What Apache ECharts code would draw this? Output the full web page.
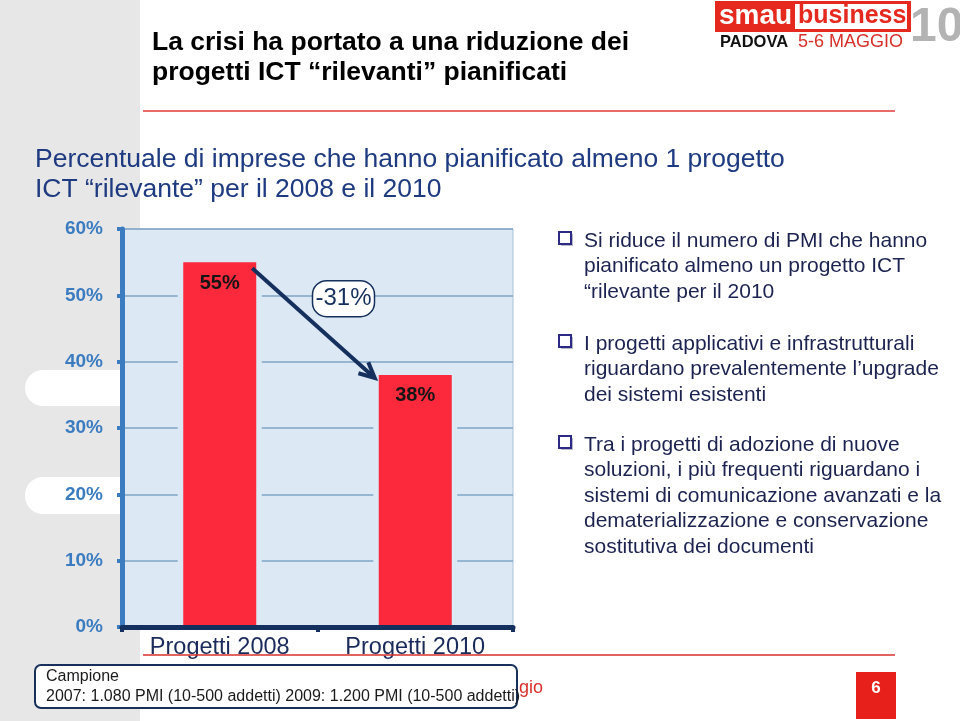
<!DOCTYPE html>
<html>
<head>
<meta charset="utf-8">
<script src="https://cdn.jsdelivr.net/npm/echarts@6/dist/echarts.min.js"></script>
<style>
html,body{margin:0;padding:0;background:#fff;}
#chart{width:960px;height:721px;}
</style>
</head>
<body>
<div id="chart"></div>
<script>
// ---- data ----
const categories = ['Progetti 2008', 'Progetti 2010'];
const values = [55, 38];
const valueLabels = ['55%', '38%'];
const yMin = 0, yMax = 60, yStep = 10;
const changeLabel = '-31%';
const titleLines = 'La crisi ha portato a una riduzione dei\nprogetti ICT \u201crilevanti\u201d pianificati';
const subtitleLines = 'Percentuale di imprese che hanno pianificato almeno 1 progetto\nICT \u201crilevante\u201d per il 2008 e il 2010';
const bullets = [
  'Si riduce il numero di PMI che hanno\npianificato almeno un progetto ICT\n\u201crilevante per il 2010',
  'I progetti applicativi e infrastrutturali\nriguardano prevalentemente l\u2019upgrade\ndei sistemi esistenti',
  'Tra i progetti di adozione di nuove\nsoluzioni, i pi\u00f9 frequenti riguardano i\nsistemi di comunicazione avanzati e la\ndematerializzazione e conservazione\nsostitutiva dei documenti'
];
const sampleNote = 'Campione\n2007: 1.080 PMI (10-500 addetti) 2009: 1.200 PMI (10-500 addetti)';
const footerText = 'Smau Business Padova, 5-6 maggio';
const pageNumber = '6';

const FONT = "'Liberation Sans', Arial, sans-serif";
const BG = '#dce9f5';
const chart = echarts.init(document.getElementById('chart'), null, {renderer: 'canvas'});

const option = {
  backgroundColor: '#ffffff',
  animation: false,
  grid: {left: 122, top: 229, right: 447, bottom: 94, show: true, backgroundColor: BG, borderColor: '#a9c3da', borderWidth: 1},
  xAxis: [{
    type: 'category', data: categories, z: 5,
    axisLine: {lineStyle: {color: '#13305e', width: 5}},
    axisTick: {show: true, alignWithLabel: false, length: 5, lineStyle: {color: '#13305e', width: 4}},
    axisLabel: {color: '#1a2a5a', fontSize: 23.5, fontFamily: FONT, margin: 9}
  }, {
    type: 'category', data: categories, show: false
  }],
  yAxis: {
    type: 'value', min: yMin, max: yMax, interval: yStep,
    axisLine: {show: true, lineStyle: {color: '#3b7cc1', width: 5}},
    axisTick: {show: true, length: 5, lineStyle: {color: '#3b7cc1', width: 4}},
    axisLabel: {formatter: '{value}%', color: '#3b7cc1', fontSize: 19, fontWeight: 'bold', fontFamily: FONT, margin: 19},
    splitLine: {show: true, lineStyle: {color: '#7ea3c4', width: 1.5}}
  },
  series: [{
    // halo behind each bar (plot-background colour) that cuts the gridlines
    type: 'bar', xAxisIndex: 1, data: values, barWidth: 84, z: 2, silent: true,
    itemStyle: {color: BG}
  }, {
    type: 'bar', xAxisIndex: 0, data: values, barWidth: 73, z: 3,
    itemStyle: {color: '#fc283c'},
    label: {show: true, position: 'insideTop', distance: 11, formatter: p => valueLabels[p.dataIndex],
      color: '#151515', fontSize: 20, fontWeight: 'bold', fontFamily: FONT}
  }]
};
chart.setOption(option);

// annotation positions from the library's scales
const pA = chart.convertToPixel({xAxisIndex: 0, yAxisIndex: 0}, [0, values[0]]);
const pB = chart.convertToPixel({xAxisIndex: 0, yAxisIndex: 0}, [1, values[1]]);
const half = 36.5;
const x1 = pA[0] + half - 4, y1 = pA[1] + 6;
const x2 = pB[0] - half - 4, y2 = pB[1] + 3;
const ang = Math.atan2(y2 - y1, x2 - x1);
const ah = 17, aw = 0.45;
const head = [
  [x2 - ah * Math.cos(ang - aw), y2 - ah * Math.sin(ang - aw)],
  [x2, y2],
  [x2 - ah * Math.cos(ang + aw), y2 - ah * Math.sin(ang + aw)]
];
const boxCx = (pA[0] + pB[0]) / 2 + 26;
const boxCy = chart.convertToPixel({xAxisIndex: 0, yAxisIndex: 0}, [0, 49.5])[1];

const bulletTops = [228, 331, 432];
const graphics = [
  // watermark background
  {type: 'rect', z: -10, shape: {x: 0, y: 0, width: 140, height: 721}, style: {fill: '#e7e7e7'}},
  {type: 'rect', z: -9, shape: {x: 25, y: 370, width: 130, height: 36, r: 18}, style: {fill: '#ffffff'}},
  {type: 'rect', z: -9, shape: {x: 25, y: 477, width: 130, height: 37, r: 18}, style: {fill: '#ffffff'}},
  // title
  {type: 'text', left: 152, top: 28, z: 10, style: {text: titleLines, font: "bold 26.5px " + FONT, fill: '#000000', lineHeight: 30}},
  {type: 'line', z: 10, shape: {x1: 143, y1: 111, x2: 895, y2: 111}, style: {stroke: '#e23a36', lineWidth: 1.5}},
  // subtitle
  {type: 'text', left: 35, top: 145, z: 10, style: {text: subtitleLines, font: "26.5px " + FONT, fill: '#1e3a80', lineHeight: 30}},
  // logo
  {type: 'rect', z: 10, shape: {x: 715, y: 1, width: 196, height: 31}, style: {fill: '#e5291f'}},
  {type: 'rect', z: 11, shape: {x: 795, y: 4, width: 112, height: 25}, style: {fill: '#ffffff'}},
  {type: 'text', z: 12, x: 719, y: 16, style: {text: 'smau', font: "900 28px " + FONT, fill: '#ffffff', textVerticalAlign: 'middle'}},
  {type: 'text', z: 12, x: 798, y: 16, style: {text: 'business', font: "900 25px " + FONT, fill: '#e5291f', textVerticalAlign: 'middle'}},
  {type: 'text', z: 12, x: 720, y: 42, style: {text: 'PADOVA', font: "900 16.5px " + FONT, fill: '#111111', textVerticalAlign: 'middle'}},
  {type: 'text', z: 12, x: 798, y: 42, style: {text: '5-6 MAGGIO', font: "18px " + FONT, fill: '#d8302b', textVerticalAlign: 'middle'}},
  {type: 'text', z: 12, x: 910, y: 28, style: {text: '10', font: "bold 48px " + FONT, fill: '#b3b3b3', textVerticalAlign: 'middle'}},
  // arrow and change label
  {type: 'line', z: 20, shape: {x1: x1, y1: y1, x2: x2, y2: y2}, style: {stroke: '#15305d', lineWidth: 4}},
  {type: 'polyline', z: 20, shape: {points: head}, style: {stroke: '#15305d', lineWidth: 4, fill: null}},
  {type: 'rect', z: 21, shape: {x: boxCx - 31, y: boxCy - 18, width: 62, height: 36, r: 14}, style: {fill: '#ffffff', stroke: '#15305d', lineWidth: 1.5}},
  {type: 'text', z: 22, x: boxCx, y: boxCy, style: {text: changeLabel, font: "24px " + FONT, fill: '#15305d', textAlign: 'center', textVerticalAlign: 'middle'}},
  // footer
  {type: 'line', z: 10, shape: {x1: 143, y1: 655, x2: 895, y2: 655}, style: {stroke: '#d9302c', lineWidth: 1.5}},
  {type: 'text', z: 10, x: 543, y: 688, style: {text: footerText, font: "18px " + FONT, fill: '#d9302c', textAlign: 'right', textVerticalAlign: 'middle'}},
  {type: 'rect', z: 11, shape: {x: 35, y: 665, width: 482, height: 43, r: 6}, style: {fill: '#ffffff', stroke: '#16305a', lineWidth: 2}},
  {type: 'text', z: 12, left: 46, top: 667, style: {text: sampleNote, font: "16px " + FONT, fill: '#1a1a1a', lineHeight: 20}},
  {type: 'rect', z: 10, shape: {x: 856, y: 672, width: 40, height: 47}, style: {fill: '#e8201c'}},
  {type: 'text', z: 11, x: 876, y: 688, style: {text: pageNumber, font: "bold 17px " + FONT, fill: '#ffffff', textAlign: 'center', textVerticalAlign: 'middle'}}
];
bullets.forEach((b, i) => {
  const t = bulletTops[i];
  graphics.push({type: 'rect', z: 9, shape: {x: 561, y: t + 6, width: 12, height: 12}, style: {fill: '#b9b9c9'}});
  graphics.push({type: 'rect', z: 10, shape: {x: 559, y: t + 4, width: 12, height: 12}, style: {fill: '#ffffff', stroke: '#2d2a86', lineWidth: 2}});
  graphics.push({type: 'text', z: 10, left: 584, top: t, style: {text: b, font: "21px " + FONT, fill: '#1c2350', lineHeight: 25.5}});
});
chart.setOption({graphic: graphics});
</script>
</body>
</html>
